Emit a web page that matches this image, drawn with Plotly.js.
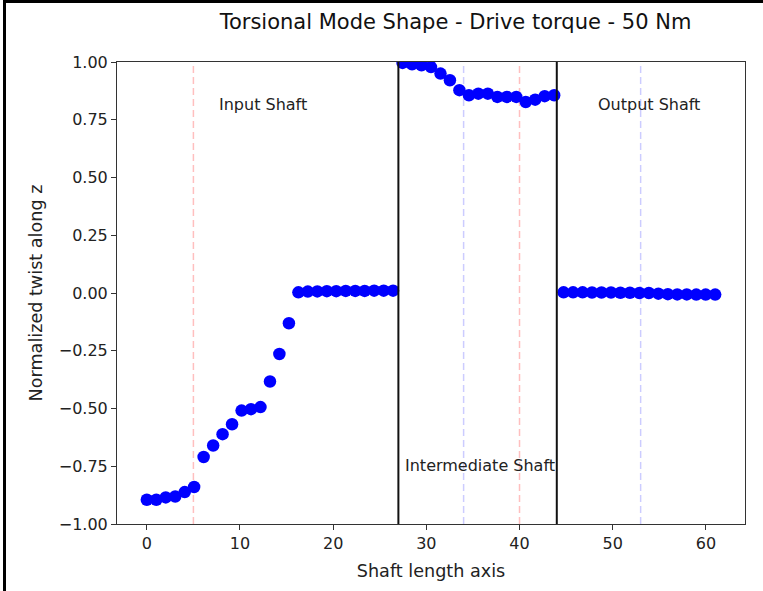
<!DOCTYPE html>
<html>
<head>
<meta charset="utf-8">
<script src="https://cdn.plot.ly/plotly-3.0.1.min.js"></script>
<style>
  html, body { margin: 0; padding: 0; background: #fff; }
  #wrap { position: relative; width: 763px; height: 591px; }
  #chart { position: absolute; left: 0; top: 0; width: 763px; height: 591px; }
  .edge { position: absolute; background: #000; }
</style>
</head>
<body>
<div id="wrap">
  <div id="chart"></div>
  <div class="edge" style="left:3px; top:0; width:3px; height:591px;"></div>
  <div class="edge" style="left:3px; top:0; width:760px; height:3px;"></div>
</div>
<script>
// Node positions along the shaft
const inputX = [0.00, 1.02, 2.03, 3.05, 4.07, 5.08, 6.10, 7.12, 8.13, 9.15, 10.17, 11.18, 12.20,
  13.22, 14.23, 15.25, 16.27, 17.28, 18.30, 19.32, 20.33, 21.35, 22.37, 23.38, 24.40, 25.42, 26.43];
const inputTwist = [-0.895, -0.895, -0.885, -0.881, -0.862, -0.840, -0.710, -0.660, -0.611, -0.568,
  -0.509, -0.503, -0.494, -0.383, -0.264, -0.131, 0.003, 0.006, 0.007, 0.008, 0.008, 0.009, 0.009,
  0.009, 0.010, 0.010, 0.010];

const interX = [27.45, 28.47, 29.48, 30.50, 31.52, 32.53, 33.55, 34.57, 35.58, 36.60, 37.62, 38.63,
  39.65, 40.67, 41.68, 42.70, 43.72];
const interTwist = [0.996, 0.990, 0.986, 0.978, 0.950, 0.921, 0.878, 0.856, 0.863, 0.863, 0.849,
  0.849, 0.849, 0.827, 0.837, 0.852, 0.856];

const outputX = [44.73, 45.75, 46.77, 47.78, 48.80, 49.82, 50.83, 51.85, 52.87, 53.88, 54.90, 55.92,
  56.93, 57.95, 58.97, 59.98, 61.00];
const outputTwist = [0.003, 0.003, 0.003, 0.002, 0.002, 0.002, 0.001, 0.001, 0.000, 0.000, -0.003,
  -0.005, -0.006, -0.006, -0.007, -0.007, -0.007];

// Shaft boundaries and gear/bearing stations
const shaftBounds = [27, 44];
const redStations = [5, 40];
const blueStations = [34, 53];

// Section labels
const sectionNames = ['Input Shaft', 'Intermediate Shaft', 'Output Shaft'];
const sectionLabelX = [7.5, 27.45, 48.25];
const sectionLabelY = [0.817, -0.745, 0.817];

const xTicks = [0, 10, 20, 30, 40, 50, 60];
const yTicks = [-1.00, -0.75, -0.50, -0.25, 0.00, 0.25, 0.50, 0.75, 1.00];

const allX = inputX.concat(interX, outputX);
const allY = inputTwist.concat(interTwist, outputTwist);

const FONT = 'DejaVu Sans, sans-serif';

const shapes = [];
redStations.forEach(v => shapes.push({
  type: 'line', xref: 'x', yref: 'paper', x0: v, x1: v, y0: 0, y1: 1, layer: 'below',
  line: { color: 'rgba(255,0,0,0.25)', width: 1.5, dash: '7px,4px' }
}));
blueStations.forEach(v => shapes.push({
  type: 'line', xref: 'x', yref: 'paper', x0: v, x1: v, y0: 0, y1: 1, layer: 'below',
  line: { color: 'rgba(0,0,255,0.2)', width: 1.5, dash: '7px,4px' }
}));
shaftBounds.forEach(v => shapes.push({
  type: 'line', xref: 'x', yref: 'paper', x0: v, x1: v, y0: 0, y1: 1, layer: 'above',
  line: { color: '#111', width: 2 }
}));

const annotations = sectionNames.map((t, i) => ({
  text: t, x: sectionLabelX[i], y: sectionLabelY[i], xref: 'x', yref: 'y',
  xanchor: 'left', yanchor: 'middle', showarrow: false,
  font: { family: FONT, size: 16, color: '#222' }
}));

const trace = {
  x: allX, y: allY, type: 'scatter', mode: 'markers',
  marker: { color: '#0000ff', size: 12.5, line: { width: 0 } },
  cliponaxis: true, hoverinfo: 'x+y'
};

const axisCommon = {
  showline: true, mirror: true, linecolor: '#333', linewidth: 1,
  showgrid: false, zeroline: false,
  ticks: 'outside', ticklen: 5, tickwidth: 1, tickcolor: '#333',
  tickfont: { family: FONT, size: 16, color: '#222' }
};

const layout = {
  width: 763, height: 591,
  margin: { l: 117, r: 18, t: 62, b: 67, pad: 0 },
  paper_bgcolor: '#fff', plot_bgcolor: '#fff',
  showlegend: false,
  title: {
    text: 'Torsional Mode Shape - Drive torque - 50 Nm',
    font: { family: FONT, size: 21, color: '#111' },
    xref: 'container', yref: 'container', x: 0.597, y: 1 - 22 / 591,
    xanchor: 'center', yanchor: 'middle'
  },
  xaxis: Object.assign({}, axisCommon, {
    range: [-3.2, 64.2], tickvals: xTicks, ticktext: xTicks.map(String),
    title: { text: 'Shaft length axis', font: { family: FONT, size: 17.6, color: '#222' }, standoff: 12 }
  }),
  yaxis: Object.assign({}, axisCommon, {
    range: [-1, 1], tickvals: yTicks,
    ticktext: yTicks.map(v => (v < 0 ? '\u2212' : '') + Math.abs(v).toFixed(2)),
    title: { text: 'Normalized twist along z', font: { family: FONT, size: 17.6, color: '#222' }, standoff: 11 }
  }),
  shapes: shapes,
  annotations: annotations
};

Plotly.newPlot('chart', [trace], layout, { displayModeBar: false, staticPlot: true });
</script>
</body>
</html>
